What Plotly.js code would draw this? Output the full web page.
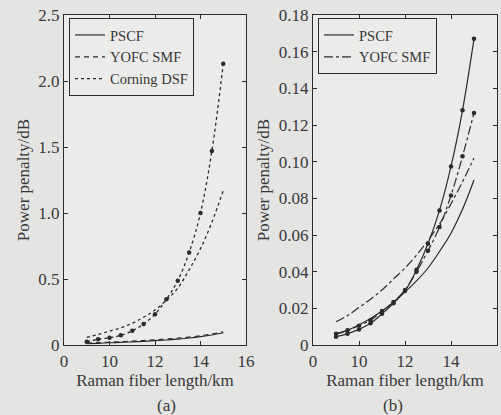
<!DOCTYPE html>
<html><head><meta charset="utf-8">
<script src="https://cdn.plot.ly/plotly-3.0.1.min.js"></script>
<style>html,body{margin:0;padding:0;background:#e4e4e2;}#plot{width:501px;height:415px;}</style>
</head><body><div id="plot"></div>
<script>
// Raman fiber length (km); axis tick at 8 is labelled "0" (broken axis)
const lengthKm = [9, 9.5, 10, 10.5, 11, 11.5, 12, 12.5, 13, 13.5, 14, 14.5, 15];
const xTickVals = [8, 10, 12, 14, 16];
const xTickText = ['0', '10', '12', '14', '16'];
const aTickVals = [0, 0.5, 1.0, 1.5, 2.0, 2.5];
const aTickText = ['0', '0.5', '1.0', '1.5', '2.0', '2.5'];
const bTickVals = [0, 0.02, 0.04, 0.06, 0.08, 0.10, 0.12, 0.14, 0.16, 0.18];
const bTickText = ['0', '0.02', '0.04', '0.06', '0.08', '0.10', '0.12', '0.14', '0.16', '0.18'];

// panel (a)
const aPscf = [0.010, 0.013, 0.017, 0.020, 0.024, 0.028, 0.033, 0.038, 0.045, 0.053, 0.063, 0.076, 0.093];
const aYofc = [0.015, 0.018, 0.021, 0.025, 0.029, 0.034, 0.039, 0.045, 0.052, 0.060, 0.070, 0.083, 0.100];
const aCorningPts = [0.025, 0.043, 0.055, 0.073, 0.108, 0.159, 0.233, 0.346, 0.487, 0.70, 1.00, 1.47, 2.13];
const aUpperCurve = [0.058, 0.080, 0.105, 0.130, 0.165, 0.210, 0.265, 0.340, 0.430, 0.570, 0.730, 0.930, 1.170];

// panel (b)
const bPscfPts = [0.0045, 0.0062, 0.0085, 0.0118, 0.0170, 0.0228, 0.0295, 0.0410, 0.0552, 0.0734, 0.0974, 0.128, 0.167];
const bYofcPts = [0.0062, 0.0080, 0.0105, 0.0135, 0.0185, 0.0235, 0.0300, 0.0400, 0.0514, 0.0643, 0.0816, 0.1029, 0.1266];
const bPscfCurve = [0.0058, 0.0080, 0.0110, 0.0145, 0.0185, 0.0235, 0.0290, 0.0350, 0.0420, 0.0510, 0.0610, 0.0740, 0.0900];
const bYofcCurve = [0.0127, 0.0160, 0.0205, 0.0250, 0.0300, 0.0360, 0.0420, 0.0490, 0.0570, 0.0660, 0.0770, 0.0890, 0.1020];

const ink = '#2b2b2b';
const txt = '#383838';
const serif = 'Liberation Serif, Times New Roman, serif';
const mk = {size: 4.5, color: ink};

const traces = [
  // (a)
  {x: lengthKm, y: aPscf, xaxis: 'x', yaxis: 'y', mode: 'lines', name: 'PSCF', legend: 'legend',
   line: {color: ink, width: 1.2, shape: 'spline'}},
  {x: lengthKm, y: aYofc, xaxis: 'x', yaxis: 'y', mode: 'lines', name: 'YOFC SMF', legend: 'legend',
   line: {color: ink, width: 1.2, dash: '5px,4px', shape: 'spline'}},
  {x: lengthKm, y: aUpperCurve, xaxis: 'x', yaxis: 'y', mode: 'lines', name: 'Corning DSF', legend: 'legend',
   line: {color: ink, width: 1.3, dash: 'dot', shape: 'spline'}},
  {x: lengthKm, y: aCorningPts, xaxis: 'x', yaxis: 'y', mode: 'lines+markers', showlegend: false,
   line: {color: ink, width: 1.3, dash: 'dot', shape: 'spline'}, marker: mk},
  // (b)
  {x: lengthKm, y: bPscfCurve, xaxis: 'x2', yaxis: 'y2', mode: 'lines', name: 'PSCF', legend: 'legend2',
   line: {color: ink, width: 1.2, shape: 'spline'}},
  {x: lengthKm, y: bYofcCurve, xaxis: 'x2', yaxis: 'y2', mode: 'lines', name: 'YOFC SMF', legend: 'legend2',
   line: {color: ink, width: 1.2, dash: 'dashdot', shape: 'spline'}},
  {x: lengthKm, y: bPscfPts, xaxis: 'x2', yaxis: 'y2', mode: 'lines+markers', showlegend: false,
   line: {color: ink, width: 1.2, shape: 'spline'}, marker: mk},
  {x: lengthKm, y: bYofcPts, xaxis: 'x2', yaxis: 'y2', mode: 'lines+markers', showlegend: false,
   line: {color: ink, width: 1.2, dash: 'dashdot', shape: 'spline'}, marker: mk}
];

const W = 501, H = 415;
const yDom = [1 - 345 / H, 1 - 15 / H];
function xAxis(dom) {
  return {domain: dom, range: [8, 16], tickmode: 'array', tickvals: xTickVals, ticktext: xTickText,
    ticks: 'inside', ticklen: 4, tickcolor: ink, mirror: 'ticks', showline: true, linecolor: ink, linewidth: 1.2,
    showgrid: false, zeroline: false, tickfont: {family: serif, size: 17, color: txt},
    title: {text: 'Raman fiber length/km', font: {family: serif, size: 17, color: txt}, standoff: 2}};
}
function yAxis(anchor, range, vals, text) {
  return {anchor: anchor, domain: yDom, range: range, tickmode: 'array', tickvals: vals, ticktext: text,
    ticks: 'inside', ticklen: 4, tickcolor: ink, mirror: 'ticks', showline: true, linecolor: ink, linewidth: 1.2,
    showgrid: false, zeroline: false, tickfont: {family: serif, size: 17, color: txt},
    title: {text: 'Power penalty/dB', font: {family: serif, size: 17, color: txt}, standoff: 4}};
}
function leg(x, y) {
  return {x: x, y: y, xanchor: 'left', yanchor: 'top', bgcolor: 'rgba(0,0,0,0)', bordercolor: ink, borderwidth: 1,
    font: {family: serif, size: 14.5, color: txt}, itemwidth: 30, tracegroupgap: 0, traceorder: 'normal'};
}

const layout = {
  width: W, height: H, margin: {l: 0, r: 0, t: 0, b: 0},
  paper_bgcolor: '#e4e4e2', plot_bgcolor: '#ebebe9', showlegend: true,
  xaxis: Object.assign(xAxis([64 / W, 246 / W]), {anchor: 'y'}),
  yaxis: yAxis('x', [0, 2.5], aTickVals, aTickText),
  xaxis2: Object.assign(xAxis([313 / W, 497 / W]), {anchor: 'y2'}),
  yaxis2: yAxis('x2', [0, 0.18], bTickVals, bTickText),
  legend: leg(69 / W, 1 - 18 / H),
  legend2: leg(318 / W, 1 - 18 / H),
  annotations: [
    {text: '(a)', x: 155 / W, y: 1 - 405 / H, xref: 'paper', yref: 'paper', yanchor: 'middle', showarrow: false,
     font: {family: serif, size: 17, color: txt}},
    {text: '(b)', x: 405 / W, y: 1 - 405 / H, xref: 'paper', yref: 'paper', yanchor: 'middle', showarrow: false,
     font: {family: serif, size: 17, color: txt}}
  ]
};
Plotly.newPlot('plot', traces, layout, {displayModeBar: false, staticPlot: true});
</script></body></html>
